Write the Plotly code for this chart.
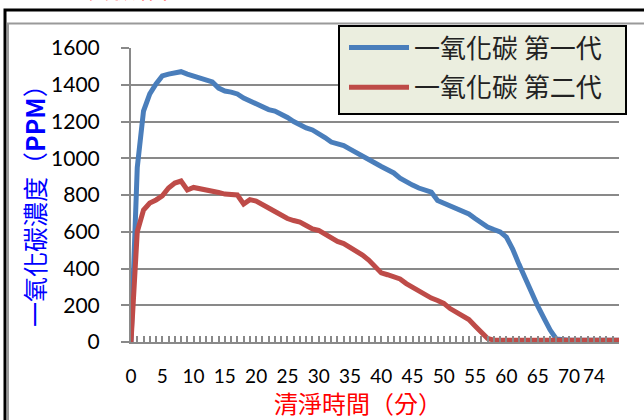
import plotly.graph_objects as go

# Cleaning time (minutes) and CO concentration readings (ppm)
minutes = list(range(0, 79))
co_gen1 = [0, 950, 1257, 1350, 1404, 1448, 1458, 1467, 1471, 1458,
           1448, 1435, 1426, 1415, 1382, 1366, 1360, 1350, 1328, 1311,
           1292, 1276, 1265, 1257, 1243, 1222, 1200, 1181, 1165, 1154,
           1135, 1113, 1088, 1078, 1069, 1050, 1029, 1010, 990, 974,
           955, 936, 920, 892, 871, 854, 838, 824, 816, 770,
           756, 745, 732, 716, 697, 672, 648, 626, 612, 599,
           571, 506, 424, 343, 267, 196, 130, 65, 16, 10,
           10, 10, 10, 10, 10, 10, 10, 10, 10]
co_gen2 = [0, 600, 718, 756, 773, 795, 838, 865, 876, 827,
           841, 835, 830, 822, 814, 805, 805, 800, 751, 775,
           767, 751, 729, 710, 691, 672, 661, 653, 634, 615,
           607, 588, 563, 547, 536, 517, 495, 473, 446, 414,
           376, 366, 354, 343, 318, 297, 280, 258, 239, 226,
           210, 182, 163, 147, 122, 87, 52, 19, 10, 10,
           10, 10, 10, 10, 10, 10, 10, 10, 10, 10,
           10, 10, 10, 10, 10, 10, 10, 10, 10]
series_names = ["一氧化碳 第一代", "一氧化碳 第二代"]
x_tick_labels = [0, 5, 10, 15, 20, 25, 30, 35, 40, 45, 50, 55, 60, 65, 70, 74]
y_ticks = [0, 200, 400, 600, 800, 1000, 1200, 1400, 1600]

W, H = 644, 420
L, R, T, B = 131, 25, 48, 78
pw, ph = W - L - R, H - T - B


def px(xp):
    return (xp - L) / pw


def py(yp):
    return (H - B - yp) / ph


CJK = "Noto Sans CJK TC"
NUM = "Lato"
GRID = "#898989"

fig = go.Figure()
fig.add_trace(go.Scatter(x=minutes, y=co_gen1, mode="lines", name=series_names[0],
                         legendgroup="g1",
                         line=dict(color="#4A7EBB", width=5)))
fig.add_trace(go.Scatter(x=minutes, y=co_gen2, mode="lines", name=series_names[1],
                         legendgroup="g2",
                         line=dict(color="#BE4B48", width=5)))

fig.update_xaxes(
    range=[0, 78], showgrid=False, zeroline=False,
    showline=True, linecolor=GRID, linewidth=2,
    tickmode="array", tickvals=x_tick_labels, ticktext=[str(v) for v in x_tick_labels],
    tickangle=0,
    ticks="inside", ticklen=6, tickwidth=1.5, tickcolor=GRID,
    minor=dict(dtick=1, tick0=0, ticks="inside", ticklen=6, tickwidth=1.5, tickcolor=GRID),
    tickfont=dict(family=NUM, size=19, color="#000000"),
    ticklabelstandoff=16,
)
fig.update_yaxes(
    range=[0, 1600], tickvals=y_ticks,
    showgrid=True, gridcolor=GRID, gridwidth=1.5, zeroline=False,
    showline=True, linecolor=GRID, linewidth=2,
    ticks="outside", ticklen=8, tickwidth=1.5, tickcolor=GRID,
    tickfont=dict(family=NUM, size=21, color="#000000"),
    ticklabelstandoff=17,
)

shapes = [
    # outer black frame
    dict(type="rect", xref="paper", yref="paper",
         x0=px(5), x1=px(700), y0=py(10), y1=py(480),
         line=dict(color="#000000", width=3), fillcolor="rgba(0,0,0,0)", layer="below"),
    # inner grey frame
    dict(type="rect", xref="paper", yref="paper",
         x0=px(8), x1=px(700), y0=py(23.5), y1=py(480),
         line=dict(color="#9A9A9A", width=2), fillcolor="rgba(0,0,0,0)", layer="below"),
    # legend panel
    dict(type="rect", xref="paper", yref="paper",
         x0=px(339), x1=px(626), y0=py(114), y1=py(26),
         line=dict(color="#000000", width=2), fillcolor="#EBEEDF", layer="above"),
]

annotations = [
    dict(text="清淨時間（分）", xref="paper", yref="paper",
         x=px(358), y=py(403), xanchor="center", yanchor="middle", showarrow=False,
         font=dict(family=CJK, size=24, color="#FF0000")),
    dict(text="一氧化碳濃度（<b>PPM</b>）", xref="paper", yref="paper",
         x=px(34), y=py(200), xanchor="center", yanchor="middle", showarrow=False,
         textangle=-90, font=dict(family=CJK, size=25, color="#0000FF")),
    dict(text="二、實驗結果", xref="paper", yref="paper",
         x=px(42), y=py(-12), xanchor="left", yanchor="middle", showarrow=False,
         font=dict(family=CJK, size=22, color="#FF0000")),
]

fig.update_layout(
    width=W, height=H,
    margin=dict(l=L, r=R, t=T, b=B, pad=0),
    paper_bgcolor="#FFFFFF", plot_bgcolor="#FFFFFF",
    showlegend=True,
    legend=dict(x=px(344), y=py(24), xanchor="left", yanchor="top",
                bgcolor="rgba(0,0,0,0)", borderwidth=0,
                font=dict(family=CJK, size=26, color="#222222"),
                traceorder="grouped", tracegroupgap=3,
                itemwidth=60),
    shapes=shapes,
    annotations=annotations,
)

fig.write_html("out.html")
